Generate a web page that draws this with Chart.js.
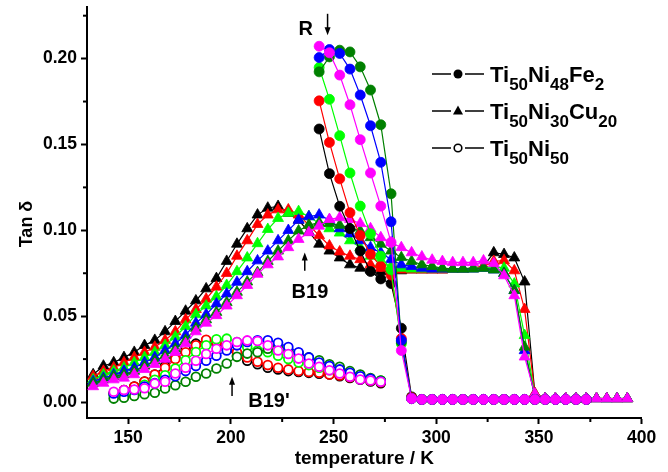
<!DOCTYPE html>
<html><head><meta charset="utf-8">
<script src="https://cdn.jsdelivr.net/npm/chart.js@4.4.1/dist/chart.umd.min.js"></script>
<style>html,body{margin:0;padding:0;background:#fff;}canvas{display:block;}</style>
</head><body>
<canvas id="c" width="668" height="472"></canvas>
<script>
// ---------- axis ticks ----------
const xTicks = [150, 200, 250, 300, 350, 400];
const xMinorTicks = [175, 225, 275, 325, 375];
const yTicks = [0.00, 0.05, 0.10, 0.15, 0.20];
const yTickLabels = ['0.00', '0.05', '0.10', '0.15', '0.20'];
const yMinorTicks = [0.025, 0.075, 0.125, 0.175, 0.225];

// ---------- Ti50Ni30Cu20 (triangles) ----------
const tempCu = [133,138,143,148,153,158,163,168,173,178,183,188,193,198,203,208,213,218,223,228,233,238,243,248,253,258,263,268,273,278,283,288,293,298,303,308,313,318,323,328,333,338,343,348,353,358,363,368,373,378,383,388,393];
const cuBlack = [.016,.021,.023,.026,.029,.033,.036,.041,.047,.053, .059,.066,.072,.082,.092,.101,.109,.113,.114,.110, .106,.099,.092,.088,.084,.080,.078,.077,.076,.076, .0765,.077,.077,.077,.077,.0775,.0775,.078,.079,.087, .086,.084,.070,.005,.002,.0021,.002,.0019,.002,.0021, .002,.002,.0021];
const cuRed = [.015,.018,.020,.023,.026,.029,.032,.036,.041,.048, .054,.060,.067,.075,.085,.094,.1035,.109,.112,.112, .109,.103,.097,.091,.0875,.085,.083,.080,.078,.077, .077,.077,.077,.077,.077,.0775,.0775,.078,.079,.082, .0824,.0765,.054,.005,.002,.002,.0021,.002,.002,.002, .0021,.002,.002];
const cuLime = [.013,.016,.018,.020,.023,.026,.029,.033,.038,.044, .051,.056,.0614,.068,.076,.084,.0923,.1006,.107,.110, .111,.108,.104,.101,.0985,.094,.090,.085,.081,.079, .078,.0775,.0775,.0775,.0775,.0775,.0775,.078,.078,.079, .078,.0688,.0388,.004,.002,.002,.002,.0021,.002,.002, .002,.0021,.002];
const cuBlue = [.012,.014,.016,.018,.020,.023,.026,.030,.034,.039, .046,.051,.0572,.063,.0698,.076,.0823,.088,.094,.100, .106,.108,.109,.106,.101,.098,.094,.090,.087,.083, .080,.079,.078,.0775,.0775,.0775,.0775,.0775,.078,.077, .075,.065,.030,.003,.002,.002,.002,.002,.0021,.002, .002,.002,.002];
const cuDkGreen = [.011,.013,.015,.016,.018,.021,.024,.027,.031,.036, .043,.048,.0523,.058,.064,.070,.0755,.082,.088,.094, .0997,.103,.1045,.104,.103,.1015,.0997,.0958,.092,.088, .0842,.082,.080,.079,.078,.0775,.0775,.0775,.078,.077, .075,.065,.032,.003,.002,.002,.002,.002,.002,.0021, .002,.002,.002];
const cuMagenta = [.009,.011,.013,.014,.016,.019,.022,.025,.029,.034, .041,.046,.0504,.056,.062,.068,.0745,.080,.0846,.090, .0948,.0987,.1025,.1064,.1074,.1064,.104,.101,.0958,.0929, .090,.087,.0846,.0827,.0819,.0813,.0813,.0813,.0823,.0807, .0736,.062,.0263,.0046,.002,.002,.002,.002,.002,.002, .002,.002,.002];

// ---------- Ti50Ni48Fe2 (filled circles) ----------
const tempFe = [243,248,253,258,263,268,273,278,283,288,293,298,303,308,313,318,323,328,333,338,343,348,353,358,363,368,373];
const feBlack = [.159,.133,.114,.101,.088,.0760,.0717,.069,.043,.003, .0015,.0015,.0015,.0015,.0015,.0015,.0015,.0015,.0015,.0015,.0015,.0015,.0015,.0015,.0015,.0015,.0015];
const feRed = [.1754,.1512,.130,.1103,.097,.086,.079,.074,.037,.0025, .0015,.0015,.0015,.0015,.0015,.0015,.0015,.0015,.0015,.0015,.0015,.0015,.0015,.0015,.0015,.0015,.0015];
const feLime = [.1948,.1763,.1551,.1334,.1141,.098,.085,.077,.034,.002, .0015,.0015,.0015,.0015,.0015,.0015,.0015,.0015,.0015,.0015,.0015,.0015,.0015,.0015,.0015,.0015,.0015];
const feBlue = [.2006,.2053,.203,.1939,.1788,.1609,.1396,.105,.036,.002, .0015,.0015,.0015,.0015,.0015,.0015,.0015,.0015,.0015,.0015,.0015,.0015,.0015,.0015,.0015,.0015,.0015];
const feDkGreen = [.1923,.201,.2049,.2039,.1952,.1817,.1615,.1213,.035,.002, .0015,.0015,.0015,.0015,.0015,.0015,.0015,.0015,.0015,.0015,.0015,.0015,.0015,.0015,.0015,.0015,.0015];
const feMagenta = [.2072,.2034,.1904,.1731,.1528,.1334,.1141,.093,.030,.002, .0015,.0015,.0015,.0015,.0015,.0015,.0015,.0015,.0015,.0015,.0015,.0015,.0015,.0015,.0015,.0015,.0015];

// ---------- Ti50Ni50 (open circles) ----------
const tempNi = [143,148,153,158,163,168,173,178,183,188,193,198,203,208,213,218,223,228,233,238,243,248,253,258,263,268,273];
const niBlack = [.005,.007,.009,.012,.016,.021,.026,.031,.034,.036, .034,.031,.027,.024,.022,.020,.019,.018,.0175,.017, .0165,.016,.015,.014,.013,.012,.011];
const niRed = [.005,.007,.009,.012,.016,.020,.025,.029,.033,.0363, .035,.032,.029,.026,.0235,.0215,.020,.019,.018,.0175, .017,.016,.0155,.0145,.0135,.0125,.0115];
const niLime = [.004,.005,.007,.010,.013,.0156,.0195,.0243,.0291,.033, .0365,.0369,.035,.032,.030,.029,.027,.025,.023,.0215, .020,.0185,.017,.0155,.0145,.0135,.0125];
const niBlue = [.005,.006,.007,.009,.011,.013,.015,.018,.021,.024, .027,.030,.033,.035,.036,.036,.0345,.032,.029,.026, .023,.021,.019,.017,.015,.0135,.012];
const niMagenta = [.006,.007,.0073,.008,.0108,.0118,.0166,.020,.024,.028, .031,.033,.035,.0359,.0355,.033,.030,.028,.0253,.0224, .0205,.0185,.0166,.0147,.0131,.0125,.0118];
const niDkGreen = [.002,.0025,.0035,.0045,.0054,.0079,.0098,.0118,.0147,.0166, .0195,.0224,.0263,.0282,.029,.031,.033,.0301,.0282,.026, .0243,.022,.0205,.018,.016,.014,.0125];

// ---------- legend / annotations ----------
const legendItems = [
  {marker:'circleFilled', parts:[['Ti',0],['50',1],['Ni',0],['48',1],['Fe',0],['2',1]]},
  {marker:'triangle', parts:[['Ti',0],['50',1],['Ni',0],['30',1],['Cu',0],['20',1]]},
  {marker:'circleOpen', parts:[['Ti',0],['50',1],['Ni',0],['50',1]]}
];
const annotations = [
  {text:'R', x:236.5, y:0.2136, arrowX:247.1, arrowFrom:0.2261, arrowTo:0.2136},
  {text:'B19', x:238.5, y:0.0603, arrowX:236.0, arrowFrom:0.0765, arrowTo:0.0871},
  {text:"B19'", x:218.6, y:-0.0029, arrowX:200.6, arrowFrom:0.0035, arrowTo:0.0147}
];

const C = {black:'#000000', red:'#ff0000', lime:'#00ff00', blue:'#0000ff', magenta:'#ff00ff', dkgreen:'#008000'};
const FONT = '"Liberation Sans", Arial, Helvetica, sans-serif';

function mk(xs, ys, color, kind) {
  const d = {
    data: ys.map((v, i) => ({x: xs[i], y: v})),
    showLine: true, borderColor: color, borderWidth: 1.2, tension: 0,
    pointBorderColor: color
  };
  if (kind === 'tri') {
    Object.assign(d, {pointStyle: 'triangle', pointRadius: 6.3, pointBackgroundColor: color, pointBorderWidth: 0.8});
  } else if (kind === 'fill') {
    Object.assign(d, {pointStyle: 'circle', pointRadius: 5, pointBackgroundColor: color, pointBorderWidth: 0.8});
  } else {
    Object.assign(d, {pointStyle: 'circle', pointRadius: 4.4, pointBackgroundColor: '#ffffff', pointBorderWidth: 1.8});
  }
  return d;
}

// first dataset is drawn on top
const datasets = [
  mk(tempFe, feMagenta, C.magenta, 'fill'),
  mk(tempFe, feBlue, C.blue, 'fill'),
  mk(tempFe, feDkGreen, C.dkgreen, 'fill'),
  mk(tempFe, feLime, C.lime, 'fill'),
  mk(tempFe, feRed, C.red, 'fill'),
  mk(tempFe, feBlack, C.black, 'fill'),
  mk(tempCu, cuMagenta, C.magenta, 'tri'),
  mk(tempCu, cuDkGreen, C.dkgreen, 'tri'),
  mk(tempCu, cuBlue, C.blue, 'tri'),
  mk(tempCu, cuLime, C.lime, 'tri'),
  mk(tempCu, cuRed, C.red, 'tri'),
  mk(tempCu, cuBlack, C.black, 'tri'),
  mk(tempNi, niMagenta, C.magenta, 'open'),
  mk(tempNi, niBlue, C.blue, 'open'),
  mk(tempNi, niDkGreen, C.dkgreen, 'open'),
  mk(tempNi, niLime, C.lime, 'open'),
  mk(tempNi, niRed, C.red, 'open'),
  mk(tempNi, niBlack, C.black, 'open')
];

const decor = {
  id: 'decor',
  afterDraw(chart) {
    const {ctx, scales: {x, y}} = chart;
    ctx.save();
    // minor ticks
    ctx.strokeStyle = '#000'; ctx.lineWidth = 2;
    xMinorTicks.forEach(v => {
      const px = x.getPixelForValue(v);
      ctx.beginPath(); ctx.moveTo(px, y.bottom); ctx.lineTo(px, y.bottom + 4); ctx.stroke();
    });
    yMinorTicks.forEach(v => {
      const py = y.getPixelForValue(v);
      ctx.beginPath(); ctx.moveTo(x.left, py); ctx.lineTo(x.left - 4, py); ctx.stroke();
    });
    // y title
    ctx.fillStyle = '#000';
    ctx.save();
    ctx.translate(32, 224);
    ctx.rotate(-Math.PI / 2);
    ctx.font = 'bold 18px ' + FONT;
    ctx.textAlign = 'center'; ctx.textBaseline = 'alphabetic';
    ctx.fillText('Tan δ', 0, 0);
    ctx.restore();
    // annotations
    annotations.forEach(a => {
      ctx.font = 'bold 20px ' + FONT;
      ctx.textAlign = 'center'; ctx.textBaseline = 'alphabetic';
      ctx.fillText(a.text, x.getPixelForValue(a.x), y.getPixelForValue(a.y));
      const ax = x.getPixelForValue(a.arrowX);
      const y0 = y.getPixelForValue(a.arrowFrom), y1 = y.getPixelForValue(a.arrowTo);
      const dir = y1 > y0 ? 1 : -1;
      ctx.lineWidth = 1.5;
      ctx.beginPath(); ctx.moveTo(ax, y0); ctx.lineTo(ax, y1 - dir * 5); ctx.stroke();
      ctx.beginPath(); ctx.moveTo(ax, y1); ctx.lineTo(ax - 3, y1 - dir * 8); ctx.lineTo(ax + 3, y1 - dir * 8); ctx.closePath(); ctx.fill();
    });
    // legend
    const rowsY = [74, 111, 148];
    legendItems.forEach((it, i) => {
      const ly = rowsY[i];
      ctx.strokeStyle = '#000'; ctx.lineWidth = 1.5;
      ctx.beginPath(); ctx.moveTo(432, ly); ctx.lineTo(451, ly); ctx.moveTo(465, ly); ctx.lineTo(484, ly); ctx.stroke();
      ctx.fillStyle = '#000';
      if (it.marker === 'circleFilled') {
        ctx.beginPath(); ctx.arc(458, ly, 4.5, 0, Math.PI * 2); ctx.fill();
      } else if (it.marker === 'triangle') {
        ctx.beginPath(); ctx.moveTo(458, ly - 5.5); ctx.lineTo(463, ly + 3.5); ctx.lineTo(453, ly + 3.5); ctx.closePath(); ctx.fill();
      } else {
        ctx.lineWidth = 1.6; ctx.beginPath(); ctx.arc(458, ly, 3.8, 0, Math.PI * 2); ctx.stroke();
      }
      let tx = 490;
      ctx.textAlign = 'left'; ctx.textBaseline = 'alphabetic';
      it.parts.forEach(([t, sub]) => {
        ctx.font = sub ? 'bold 17px ' + FONT : 'bold 22px ' + FONT;
        ctx.fillText(t, tx, sub ? ly + 16 : ly + 7.5);
        tx += ctx.measureText(t).width;
      });
    });
    ctx.restore();
  }
};

Chart.defaults.font.family = FONT;
Chart.defaults.color = '#000';

new Chart(document.getElementById('c'), {
  type: 'scatter',
  data: {datasets},
  options: {
    responsive: false, animation: false, devicePixelRatio: 1,
    layout: {padding: {top: 5, right: 26.3, left: 0, bottom: 0}},
    plugins: {legend: {display: false}, tooltip: {enabled: false}},
    elements: {line: {tension: 0}},
    scales: {
      x: {
        type: 'linear', min: 130, max: 400,
        afterBuildTicks: s => { s.ticks = xTicks.map(v => ({value: v})); },
        afterFit: s => { s.height = 54; s.paddingLeft = 0; s.paddingRight = 0; },
        ticks: {font: {size: 17.5, weight: 'bold'}, color: '#000', padding: 4, maxRotation: 0, autoSkip: false},
        grid: {display: true, drawOnChartArea: false, drawTicks: true, tickLength: 6, tickWidth: 2, tickColor: '#000'},
        border: {display: true, color: '#000', width: 2},
        title: {display: true, text: 'temperature / K', font: {size: 19, weight: 'bold'}, color: '#000', padding: {top: 0, bottom: 2}}
      },
      y: {
        type: 'linear', min: -0.0093, max: 0.23,
        afterBuildTicks: s => { s.ticks = yTicks.map(v => ({value: v})); },
        afterFit: s => { s.width = 87; s.paddingTop = 0; s.paddingBottom = 0; },
        ticks: {callback: (v, i) => yTickLabels[i], font: {size: 17.5, weight: 'bold'}, color: '#000', padding: 4, autoSkip: false},
        grid: {display: true, drawOnChartArea: false, drawTicks: true, tickLength: 6, tickWidth: 2, tickColor: '#000'},
        border: {display: true, color: '#000', width: 2}
      }
    }
  },
  plugins: [decor]
});
</script>
</body></html>
